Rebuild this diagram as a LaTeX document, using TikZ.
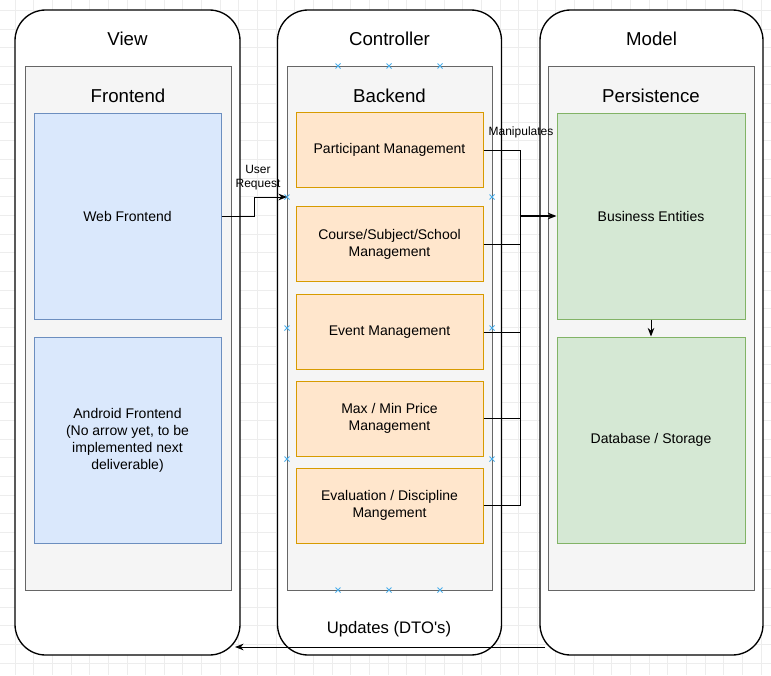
\documentclass[tikz,border=0pt]{standalone}
\usepackage{fontspec}
\setmainfont{Liberation Sans}
\usetikzlibrary{arrows.meta}
\usetikzlibrary{calc}

\definecolor{gridgray}{HTML}{EDEDED}
\definecolor{layerfill}{HTML}{F5F5F5}
\definecolor{layerdraw}{HTML}{666666}
\definecolor{viewfill}{HTML}{DAE8FC}
\definecolor{viewdraw}{HTML}{6C8EBF}
\definecolor{ctrlfill}{HTML}{FFE6CC}
\definecolor{ctrldraw}{HTML}{D79B00}
\definecolor{modelfill}{HTML}{D5E8D4}
\definecolor{modeldraw}{HTML}{82B366}
\definecolor{pinblue}{HTML}{4AAEEB}

\newcommand{\px}{0.75pt}

\begin{document}
\begin{tikzpicture}[x=0.75pt,y=-0.75pt,>={Stealth[length=6.5pt,width=5pt]},line width=0.75pt,
  tier/.style={draw=black,line width=1pt,fill=white,rounded corners=23pt,minimum height=645*\px,inner sep=0pt},
  layer/.style={draw=layerdraw,fill=layerfill,minimum height=524*\px,inner sep=0pt},
  viewbox/.style={draw=viewdraw,fill=viewfill,minimum width=187*\px,minimum height=206*\px,align=center,font=\fontsize{10.5}{12.75}\selectfont},
  ctrlbox/.style={draw=ctrldraw,fill=ctrlfill,minimum width=187*\px,minimum height=75*\px,align=center,font=\fontsize{10.5}{12.75}\selectfont},
  modelbox/.style={draw=modeldraw,fill=modelfill,minimum width=188*\px,minimum height=206*\px,align=center,font=\fontsize{10.5}{12.75}\selectfont},
  title/.style={font=\fontsize{14}{16}\selectfont},
  small/.style={font=\fontsize{9}{10.5}\selectfont,align=center,inner sep=0pt},
  gridline/.style={draw=gridgray,line width=0.6pt},
  connpt/.style={draw=pinblue,line width=0.6pt}]

  \useasboundingbox (0,0) rectangle (771,675);
  \fill[white] (0,0) rectangle (771,675);

  % background grid
  \foreach \i in {0,...,41} {
    \draw[gridline] ({15+18.65*(\i-1)},0) -- ({15+18.65*(\i-1)},675);
  }
  \foreach \j in {0,...,36} {
    \draw[gridline] (0,{663-18.65*\j}) -- (771,{663-18.65*\j});
  }

  % tiers
  \node[tier,minimum width=225*\px] (view) at (127.5,332.5) {};
  \node[tier,minimum width=224*\px] (ctrl) at (389.5,332.5) {};
  \node[tier,minimum width=223*\px] (model) at (651.5,332.5) {};
  \node[title] (viewtitle) at (127.5,39) {View};
  \node[title] (ctrltitle) at (389.5,39) {Controller};
  \node[title] (modeltitle) at (651.5,39) {Model};

  % layers
  \node[layer,minimum width=206*\px] (frontend) at (128,328) {};
  \node[layer,minimum width=205*\px] (backend) at (389.5,328) {};
  \node[layer,minimum width=206*\px] (persist) at (651,328) {};
  \node[title] (fronttitle) at (128,96) {Frontend};
  \node[title] (backtitle) at (389.5,96) {Backend};
  \node[title] (persisttitle) at (651,96) {Persistence};

  % view
  \node[viewbox] (web) at (127.5,216) {Web Frontend};
  \node[viewbox] (android) at (127.5,440) {Android Frontend\\(No arrow yet, to be\\implemented next\\deliverable)};

  % controller
  \node[ctrlbox] (part) at (389.5,150) {Participant Management};
  \node[ctrlbox] (course) at (389.5,244) {Course/Subject/School\\Management};
  \node[ctrlbox] (event) at (389.5,332) {Event Management};
  \node[ctrlbox] (price) at (389.5,418.5) {Max / Min Price\\Management};
  \node[ctrlbox] (eval) at (389.5,505.5) {Evaluation / Discipline\\Mangement};

  % model
  \node[modelbox] (entities) at (651,216) {Business Entities};
  \node[modelbox] (storage) at (651,440) {Database / Storage};

  % connection points
  \foreach \cx/\cy in {338/66,389/66,440/66,287/197,492/197,287/328,492/328,287/459,492/459,338/590,389/590,440/590} {
    \draw[connpt] (\cx-2.5,\cy-2.5) -- (\cx+2.5,\cy+2.5) (\cx-2.5,\cy+2.5) -- (\cx+2.5,\cy-2.5);
  }

  % request
  \coordinate (reqin) at (287,197);
  \draw[->] (web.east) -- ++(33,0) |- (reqin);
  \node[small] (reqlabel) at (258,178) {User\\Request};

  % manipulates
  \coordinate (junc) at (520,216);
  \draw (part.east) -| (junc);
  \draw (course.east) -| (junc);
  \draw (event.east) -| (junc);
  \draw (price.east) -| (junc);
  \draw (eval.east) -| (junc);
  \draw[->,line width=1.2pt] (junc) -- (entities.west);
  \node[small] (maniplabel) at (521,132) {Manipulates};

  \draw[->] (entities) -- (storage);

  % updates
  \coordinate (updfrom) at (545,647);
  \coordinate (updto) at (235,647);
  \draw[->] (updfrom) -- (updto);
  \node[font=\fontsize{12.5}{15}\selectfont] (updlabel) at (389,629) {Updates (DTO\textquotesingle s)};

\end{tikzpicture}
\end{document}
